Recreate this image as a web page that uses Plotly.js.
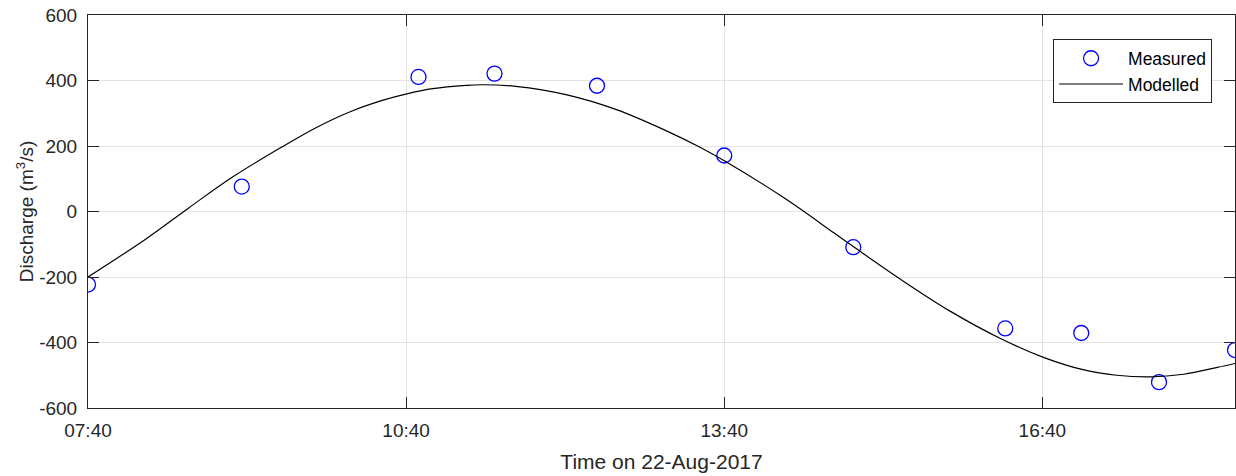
<!DOCTYPE html>
<html>
<head>
<meta charset="utf-8">
<script src="https://cdn.plot.ly/plotly-3.0.1.min.js"></script>
<style>html,body{margin:0;padding:0;background:#fff;}#chart{width:1236px;height:476px;}</style>
</head>
<body>
<div id="chart"></div>
<script>
// Measured discharge
const measuredTimes = [
  '2017-08-22 07:40', '2017-08-22 09:07', '2017-08-22 10:47', '2017-08-22 11:30',
  '2017-08-22 12:28', '2017-08-22 13:40', '2017-08-22 14:53', '2017-08-22 16:19',
  '2017-08-22 17:02', '2017-08-22 17:46', '2017-08-22 18:29'
];
const measuredValues = [-223, 76, 411, 421, 384, 171, -109, -357, -371, -521, -423];

// Modelled discharge
const modelTimes = [
  '2017-08-22 07:40', '2017-08-22 08:13', '2017-08-22 08:37', '2017-08-22 09:02',
  '2017-08-22 09:30', '2017-08-22 09:49', '2017-08-22 10:08', '2017-08-22 10:27',
  '2017-08-22 10:41', '2017-08-22 10:55', '2017-08-22 11:14', '2017-08-22 11:23',
  '2017-08-22 11:42', '2017-08-22 12:11', '2017-08-22 12:39', '2017-08-22 13:07',
  '2017-08-22 13:26', '2017-08-22 13:41', '2017-08-22 14:14', '2017-08-22 14:42',
  '2017-08-22 14:53', '2017-08-22 15:20', '2017-08-22 15:48', '2017-08-22 16:16',
  '2017-08-22 16:41', '2017-08-22 17:03', '2017-08-22 17:22', '2017-08-22 17:41',
  '2017-08-22 18:00', '2017-08-22 18:19', '2017-08-22 18:29'
];
const modelValues = [
  -200, -83, 11, 106,
  198, 256, 304, 340,
  360, 375, 385, 387,
  382, 356, 311, 247,
  197, 152, 41, -65,
  -107, -208, -305, -387,
  -446, -483, -500, -505,
  -497, -476, -464
];

const xTickVals = ['2017-08-22 07:40', '2017-08-22 10:40', '2017-08-22 13:40', '2017-08-22 16:40'];
const xTickText = ['07:40', '10:40', '13:40', '16:40'];
const yTickVals = [-600, -400, -200, 0, 200, 400, 600];
const yTickText = ['-600', '-400', '-200', '0', '200', '400', '600'];

const textColor = '#262626';
const fontFam = '"Liberation Sans", Arial, Helvetica, sans-serif';

const traces = [
  {
    type: 'scatter', mode: 'markers', name: 'Measured',
    x: measuredTimes, y: measuredValues,
    marker: {symbol: 'circle-open', size: 15, color: '#0000ff', line: {width: 1.3, color: '#0000ff'}}
  },
  {
    type: 'scatter', mode: 'lines', name: 'Modelled',
    x: modelTimes, y: modelValues,
    line: {color: '#000000', width: 1.2, shape: 'spline', smoothing: 1}
  }
];

const layout = {
  width: 1236, height: 476,
  margin: {l: 88, r: 1, t: 15, b: 68},
  paper_bgcolor: '#ffffff', plot_bgcolor: '#ffffff',
  font: {family: fontFam, color: textColor, size: 19},
  showlegend: true,
  legend: {
    x: 0.98, xanchor: 'right', y: 0.938, yanchor: 'top',
    bgcolor: '#ffffff', bordercolor: textColor, borderwidth: 1,
    font: {family: fontFam, size: 17.5, color: '#000000'},
    itemwidth: 64,
    tracegroupgap: 0
  },
  xaxis: {
    type: 'date',
    range: ['2017-08-22 07:40', '2017-08-22 18:29'],
    tickmode: 'array', tickvals: xTickVals, ticktext: xTickText,
    showgrid: true, gridcolor: '#e3e3e3', gridwidth: 1,
    zeroline: false,
    showline: true, linecolor: textColor, linewidth: 1, mirror: 'ticks',
    ticks: 'inside', ticklen: 11, tickcolor: textColor, tickwidth: 1,
    ticklabelstandoff: 5,
    tickfont: {size: 19, color: textColor},
    title: {text: 'Time on 22-Aug-2017', font: {size: 21, color: textColor}, standoff: 14},
    automargin: false
  },
  yaxis: {
    range: [-600, 600],
    tickmode: 'array', tickvals: yTickVals, ticktext: yTickText,
    showgrid: true, gridcolor: '#e3e3e3', gridwidth: 1,
    zeroline: false,
    showline: true, linecolor: textColor, linewidth: 1, mirror: 'ticks',
    ticks: 'inside', ticklen: 11, tickcolor: textColor, tickwidth: 1,
    ticklabelstandoff: 6,
    tickfont: {size: 19, color: textColor},
    title: {text: 'Discharge (m<sup>3</sup>/s)', font: {size: 19, color: textColor}},
    automargin: false
  }
};

Plotly.newPlot('chart', traces, layout, {displayModeBar: false, staticPlot: true});
</script>
</body>
</html>
